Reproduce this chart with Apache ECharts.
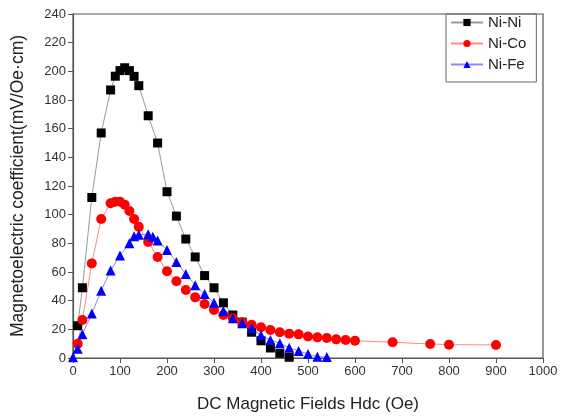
<!DOCTYPE html>
<html>
<head>
<meta charset="utf-8">
<script src="https://cdn.jsdelivr.net/npm/echarts@6/dist/echarts.min.js"></script>
<style>html,body{margin:0;padding:0;background:#fff}#c{width:563px;height:418px}</style>
</head>
<body>
<div id="c"></div>
<script>
const niNiX = [10,20,40,60,80,90,100,110,120,130,140,160,180,200,220,240,260,280,300,320,340,360,380,400,420,440,460];
const niNiY = [22.5,49,112,157,187,196.6,200.5,202.5,200.5,196.5,190,169,150,116,99,83,70.5,57.5,49,38.5,30,25,18,12,7,3.3,0.5];

const niCoX = [10,20,40,60,80,90,100,110,120,130,140,160,180,200,220,240,260,280,300,320,340,360,380,400,420,440,460,480,500,520,540,560,580,600,680,760,800,900];
const niCoY = [10,26.5,66,97,108,109,109,107,102.5,97,91.5,81,70.5,60.5,53.5,47.5,42.3,37.7,33.5,30,27.7,25,23.2,21.4,19.5,18,17,16.5,15,14.4,14,13,12.6,12,11,9.8,9.3,9.1];

const niFeX = [0,10,20,40,60,80,100,120,130,140,160,170,180,200,220,240,260,280,300,320,340,360,380,400,420,440,460,480,500,520,540];
const niFeY = [0.5,6.5,16.5,31,47,61,71.5,80,85,86,86.3,84.6,82,75.4,67,58.6,50.7,44.7,38.6,32.8,27.7,24.2,20.7,15.8,12.6,10.3,7.2,4.9,2.8,0.9,0.7];

const zip = (xs, ys) => xs.map((x, i) => [x, ys[i]]);
const font = '"Liberation Sans", Arial, sans-serif';

const chart = echarts.init(document.getElementById('c'));
chart.setOption({
  animation: false,
  backgroundColor: '#fff',
  textStyle: { fontFamily: font },
  grid: { left: 73, right: 20, top: 14, bottom: 60, show: true, borderColor: '#555', borderWidth: 1.2, backgroundColor: 'transparent' },
  legend: {
    orient: 'vertical', left: 446, top: 14, width: 95,
    borderColor: '#666', borderWidth: 1, padding: [1, 10, 10, 4],
    itemWidth: 32, itemHeight: 9, itemGap: 6,
    textStyle: { fontSize: 15, color: '#222', fontFamily: font },
    data: ['Ni-Ni', 'Ni-Co', 'Ni-Fe']
  },
  xAxis: {
    type: 'value', min: 0, max: 1000, interval: 100,
    name: 'DC Magnetic Fields Hdc (Oe)', nameLocation: 'middle', nameGap: 38,
    nameTextStyle: { fontSize: 17, color: '#222', fontFamily: font },
    axisLine: { lineStyle: { color: '#555', width: 1.2 } },
    axisTick: { inside: false, length: 5, lineStyle: { color: '#555' } },
    axisLabel: { fontSize: 13, color: '#333', margin: 7, fontFamily: font, formatter: v => String(v) },
    splitLine: { show: false }
  },
  yAxis: {
    type: 'value', min: 0, max: 240, interval: 20,
    name: 'Magnetoelectric coefficient(mV/Oe·cm)', nameLocation: 'middle', nameGap: 46,
    nameTextStyle: { fontSize: 17.5, color: '#222', fontFamily: font },
    axisLine: { show: true, lineStyle: { color: '#555', width: 1.2 } },
    axisTick: { show: true, inside: false, length: 5, lineStyle: { color: '#555' } },
    axisLabel: { fontSize: 13, color: '#333', margin: 7, fontFamily: font },
    splitLine: { show: false }
  },
  series: [
    { name: 'Ni-Ni', type: 'line', data: zip(niNiX, niNiY), symbol: 'rect', symbolSize: 9,
      itemStyle: { color: '#000' }, lineStyle: { color: '#999', width: 1 } },
    { name: 'Ni-Co', type: 'line', data: zip(niCoX, niCoY), symbol: 'circle', symbolSize: 10,
      itemStyle: { color: '#f00' }, lineStyle: { color: '#f88', width: 1 } },
    { name: 'Ni-Fe', type: 'line', data: zip(niFeX, niFeY), symbol: 'triangle', symbolSize: 10,
      itemStyle: { color: '#00f' }, lineStyle: { color: '#88f', width: 1 } }
  ]
});
</script>
</body>
</html>
